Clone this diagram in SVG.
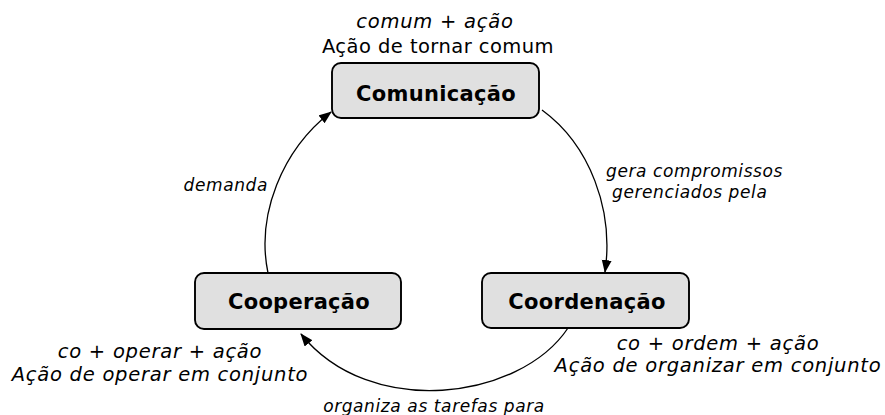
<svg xmlns="http://www.w3.org/2000/svg" width="885" height="415" viewBox="0 0 885 415">
<style>
.box{fill:#e0e0e0;stroke:#000;stroke-width:1.9}
.nl{font-family:"DejaVu Sans",Verdana,sans-serif;font-weight:bold;font-size:21px;letter-spacing:0.3px;text-anchor:middle;fill:#000}
.d{font-family:"DejaVu Sans",Verdana,sans-serif;font-size:19.5px;letter-spacing:0.45px;text-anchor:middle;fill:#000}
.i{font-style:italic;letter-spacing:0.75px}
.cl{font-family:"DejaVu Sans",Verdana,sans-serif;font-size:17px;letter-spacing:0.6px;font-style:italic;fill:#000}
.c{fill:none;stroke:#000;stroke-width:1.3}
</style>
<defs>
<marker id="ah" markerUnits="userSpaceOnUse" markerWidth="14" markerHeight="12" refX="12" refY="5" orient="auto">
<path d="M0,0 L13,5 L0,10 z" fill="#000"/>
</marker>
</defs>
<rect width="885" height="415" fill="#fff"/>
<g id="connectors">
<path class="c" d="M542,110 C590,145 614,210 605,272" marker-end="url(#ah)"/>
<path class="c" d="M568,328 C520,400 370,420 301,334" marker-end="url(#ah)"/>
<path class="c" d="M268,273 C256,215 282,150 331,112" marker-end="url(#ah)"/>
<text class="cl" x="606" y="177">gera compromissos</text>
<text class="cl" x="612" y="198">gerenciados pela</text>
<text class="cl" x="268" y="191" text-anchor="end">demanda</text>
<text class="cl" x="434" y="412" text-anchor="middle">organiza as tarefas para</text>
</g>
<g id="comunicacao">
<rect class="box" x="332" y="63" width="207" height="55" rx="9"/>
<text class="nl" x="436" y="101">Comunicação</text>
<text class="d i" x="435" y="28">comum + ação</text>
<text class="d" x="438" y="53">Ação de tornar comum</text>
</g>
<g id="coordenacao">
<rect class="box" x="482" y="273" width="207" height="55" rx="9"/>
<text class="nl" x="587" y="309">Coordenação</text>
<text class="d i" x="718" y="350">co + ordem + ação</text>
<text class="d i" x="718" y="372">Ação de organizar em conjunto</text>
</g>
<g id="cooperacao">
<rect class="box" x="195" y="273" width="206" height="56" rx="9"/>
<text class="nl" x="299" y="309">Cooperação</text>
<text class="d i" x="160" y="358">co + operar + ação</text>
<text class="d i" x="160" y="381">Ação de operar em conjunto</text>
</g>
</svg>
